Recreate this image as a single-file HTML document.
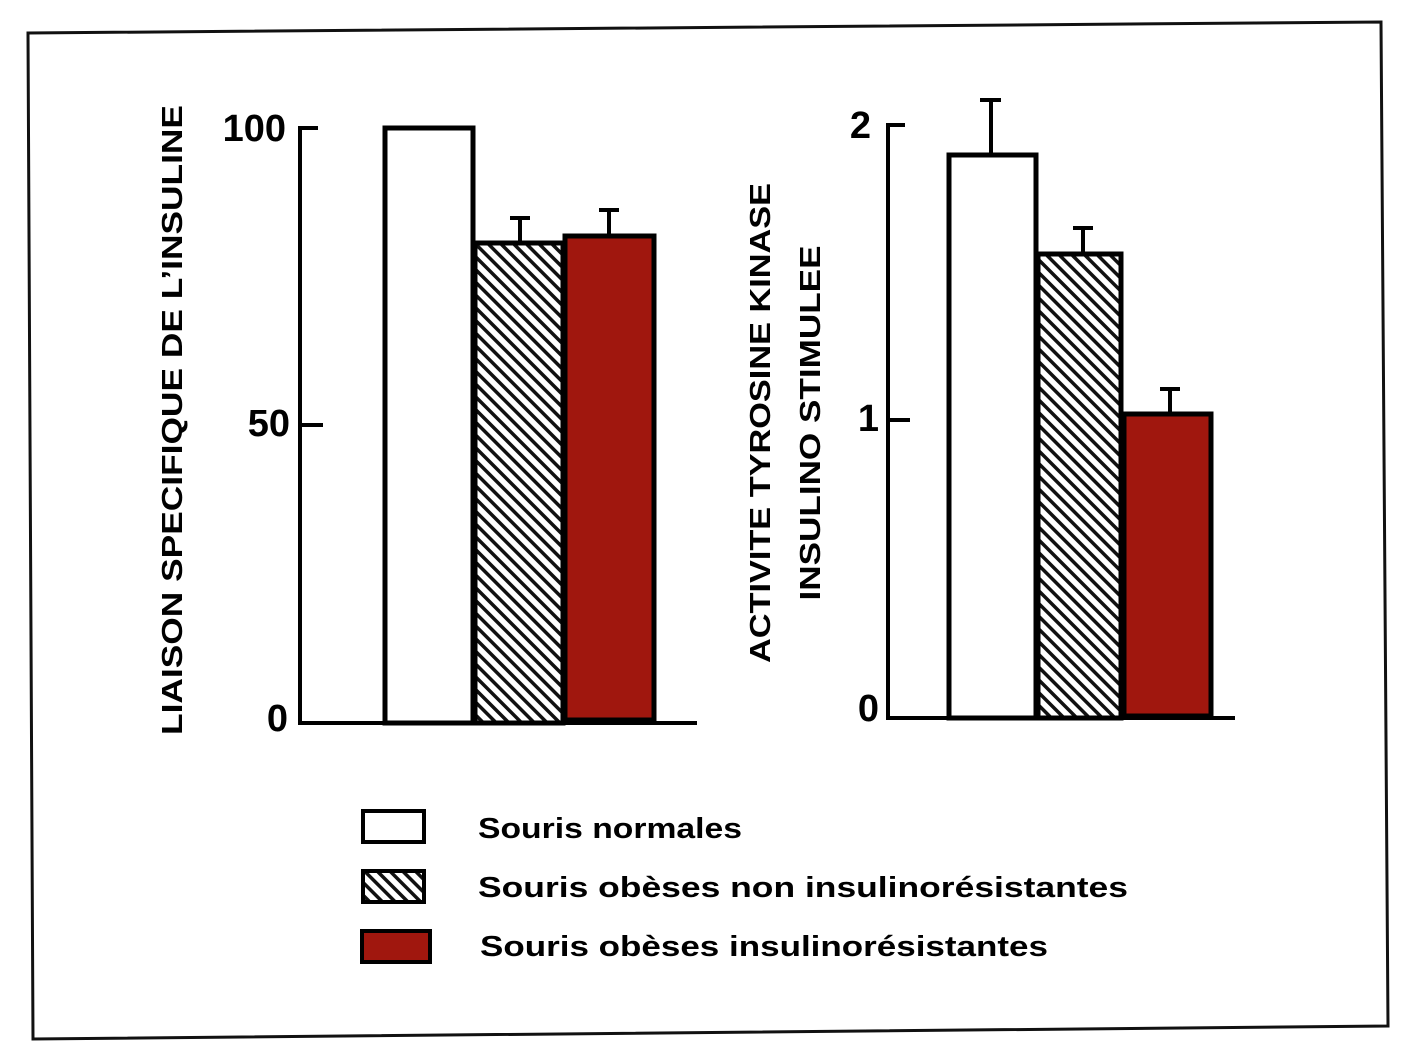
<!DOCTYPE html>
<html><head><meta charset="utf-8"><style>
html,body{margin:0;padding:0;background:#fff}
svg{display:block}
text{font-family:"Liberation Sans",sans-serif;font-weight:bold;fill:#000}
</style></head><body>
<svg width="1404" height="1056" viewBox="0 0 1404 1056" xmlns="http://www.w3.org/2000/svg">
<defs>
<pattern id="h" patternUnits="userSpaceOnUse" width="9" height="9" patternTransform="rotate(-45)">
<rect width="9" height="9" fill="#fff"/><rect x="0" y="0" width="3.5" height="9" fill="#111"/>
</pattern>
</defs>
<rect width="1404" height="1056" fill="#fff"/>
<polygon points="28,33 1381,22 1388,1026 33,1039" fill="none" stroke="#111" stroke-width="3"/>

<!-- Left chart -->
<g stroke="#000" stroke-width="4" fill="none">
<polyline points="318,128 300,128 300,723 697,723"/>
<line x1="300" y1="425" x2="323" y2="425"/>
</g>
<rect x="385" y="128" width="88" height="595" fill="#fff" stroke="#000" stroke-width="5"/>
<rect x="475" y="243" width="88" height="480" fill="url(#h)" stroke="#000" stroke-width="5"/>
<rect x="565" y="236" width="89" height="484" fill="#a0170e" stroke="#000" stroke-width="5"/>
<g stroke="#000" stroke-width="4">
<line x1="520" y1="243" x2="520" y2="218"/><line x1="510" y1="218" x2="530" y2="218"/>
<line x1="609" y1="236" x2="609" y2="210"/><line x1="599" y1="210" x2="619" y2="210"/>
</g>
<text x="286" y="141" font-size="38" text-anchor="end">100</text>
<text x="290" y="436" font-size="38" text-anchor="end">50</text>
<text x="288" y="731" font-size="38" text-anchor="end">0</text>
<text transform="translate(182,420) rotate(-90)" font-size="29" text-anchor="middle" textLength="630" lengthAdjust="spacingAndGlyphs">LIAISON SPECIFIQUE DE L’INSULINE</text>

<!-- Right chart -->
<g stroke="#000" stroke-width="4" fill="none">
<polyline points="905,125 888,125 888,718 1235,718"/>
<line x1="888" y1="420" x2="910" y2="420"/>
</g>
<rect x="949" y="155" width="87" height="563" fill="#fff" stroke="#000" stroke-width="5"/>
<rect x="1038" y="254" width="83" height="464" fill="url(#h)" stroke="#000" stroke-width="5"/>
<rect x="1124" y="414" width="87" height="302" fill="#a0170e" stroke="#000" stroke-width="5"/>
<g stroke="#000" stroke-width="4">
<line x1="991" y1="155" x2="991" y2="100"/><line x1="980" y1="100" x2="1001" y2="100"/>
<line x1="1083" y1="254" x2="1083" y2="228"/><line x1="1073" y1="228" x2="1093" y2="228"/>
<line x1="1170" y1="414" x2="1170" y2="389"/><line x1="1160" y1="389" x2="1180" y2="389"/>
</g>
<text x="871" y="138" font-size="38" text-anchor="end">2</text>
<text x="879" y="431" font-size="38" text-anchor="end">1</text>
<text x="879" y="721" font-size="38" text-anchor="end">0</text>
<text transform="translate(770,423) rotate(-90)" font-size="29" text-anchor="middle" textLength="480" lengthAdjust="spacingAndGlyphs">ACTIVITE TYROSINE KINASE</text>
<text transform="translate(820,423) rotate(-90)" font-size="29" text-anchor="middle" textLength="355" lengthAdjust="spacingAndGlyphs">INSULINO STIMULEE</text>

<!-- Legend -->
<rect x="363" y="811" width="61" height="31" fill="#fff" stroke="#000" stroke-width="4"/>
<rect x="363" y="871" width="61" height="31" fill="url(#h)" stroke="#000" stroke-width="4"/>
<rect x="362" y="931" width="68" height="31" fill="#a0170e" stroke="#000" stroke-width="4"/>
<text x="478" y="838" font-size="29" textLength="264" lengthAdjust="spacingAndGlyphs">Souris  normales</text>
<text x="478" y="897" font-size="29" textLength="650" lengthAdjust="spacingAndGlyphs">Souris  obèses   non  insulinorésistantes</text>
<text x="480" y="956" font-size="29" textLength="568" lengthAdjust="spacingAndGlyphs">Souris  obèses   insulinorésistantes</text>
</svg>
</body></html>
